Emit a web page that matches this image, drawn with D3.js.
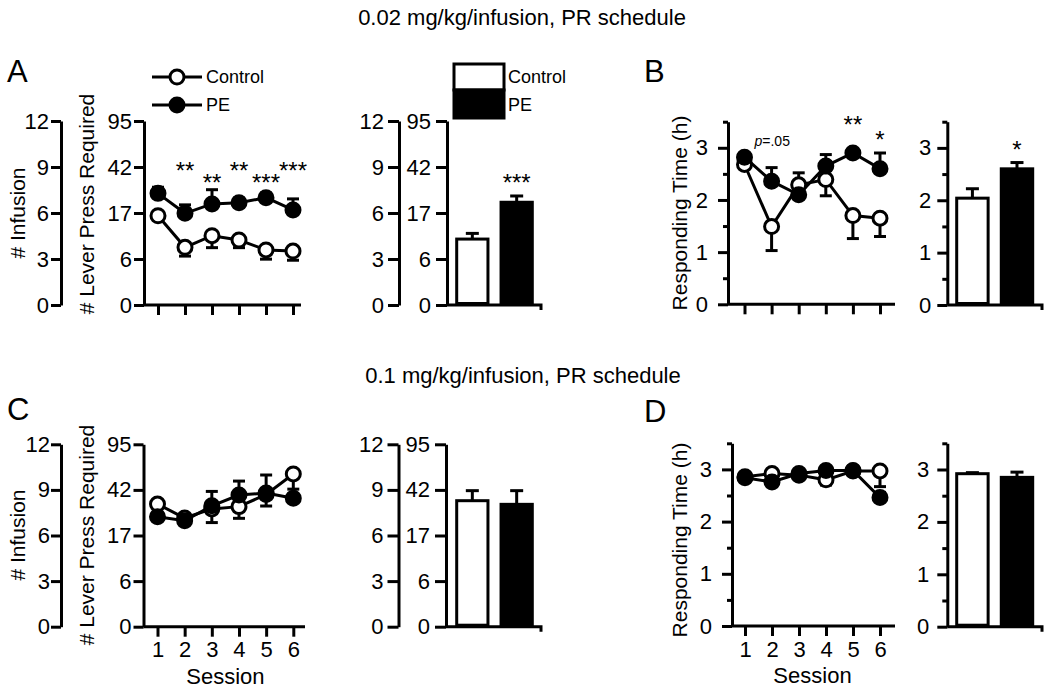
<!DOCTYPE html>
<html><head><meta charset="utf-8">
<script src="https://cdn.jsdelivr.net/npm/d3@7"></script>
<style>
body{margin:0;background:#fff;}
svg{display:block;}
</style></head><body>
<svg id="chart" width="1050" height="690"></svg>
<script>
// ---------- DATA ----------
const sessions = [1, 2, 3, 4, 5, 6];
const groups = ["Control", "PE"];
const infusionTicks = [0, 3, 6, 9, 12];
const leverTickLabels = ["0", "6", "17", "42", "95"];
const timeMajorTicks = [0, 1, 2, 3];
const timeMinorTicks = [0.5, 1.5, 2.5, 3.5];
const titles = ["0.02 mg/kg/infusion, PR schedule", "0.1 mg/kg/infusion, PR schedule"];

// errors: positive = bar drawn upward, negative = downward
// Panel A (0.02 mg/kg, # infusions)
const aControl = [5.82, 3.76, 4.52, 4.24, 3.59, 3.52];
const aControlErr = [-0.2, -0.57, -0.78, -0.5, -0.6, -0.6];
const aPE = [7.28, 5.98, 6.59, 6.67, 7.0, 6.2];
const aPEErr = [0.4, 0.55, 0.93, 0.3, 0.3, 0.72];
const aStars = ["", "**", "**", "**", "***", "***"];
const aStarLevel = [0, 9.1, 8.3, 9.1, 8.3, 9.1];
const aBarMeans = [4.3, 6.7];
const aBarErr = [0.37, 0.41];
const aBarStars = ["", "***"];
const aBarStarLevel = [0, 8.3];

// Panel B (0.02 mg/kg, responding time h)
const bControl = [2.68, 1.49, 2.29, 2.39, 1.70, 1.65];
const bControlErr = [-0.05, -0.46, 0.23, -0.31, -0.44, -0.35];
const bPE = [2.82, 2.36, 2.10, 2.65, 2.90, 2.60];
const bPEErr = [0.05, 0.26, 0.1, 0.22, 0.05, 0.30];
const bStars = ["", "", "", "", "**", "*"];
const bStarLevel = [0, 0, 0, 0, 3.55, 3.25];
const bBarMeans = [2.04, 2.60];
const bBarErr = [0.18, 0.12];
const bBarStars = ["", "*"];
const bBarStarLevel = [0, 3.07];

// Panel C (0.1 mg/kg, # infusions)
const cControl = [8.07, 7.15, 7.75, 7.9, 8.7, 10.05];
const cControlErr = [-0.2, -0.3, -0.9, -0.77, -0.76, -1.0];
const cPE = [7.24, 6.97, 7.95, 8.66, 8.8, 8.45];
const cPEErr = [0.2, 0.35, 0.95, 0.92, 1.18, 0.2];
const cBarMeans = [8.29, 8.05];
const cBarErr = [0.66, 0.9];

// Panel D (0.1 mg/kg, responding time h)
const dControl = [2.86, 2.92, 2.89, 2.80, 2.97, 2.97];
const dControlErr = [0.02, 0.03, -0.05, -0.1, 0.02, -0.3];
const dPE = [2.84, 2.76, 2.92, 2.98, 2.98, 2.46];
const dPEErr = [0.03, 0.05, 0.03, 0.03, 0.02, 0.1];
const dBarMeans = [2.92, 2.85];
const dBarErr = [0.02, 0.1];

// ---------- DRAWING ----------
const FONT = '"Liberation Sans", Arial, sans-serif';
const svg = d3.select("#chart").attr("font-family", FONT);
const SW = 3;
const STAR_FS = 24;

function styleAxis(g, fs) {
  g.attr("font-family", FONT).attr("font-size", fs || 22);
  g.select(".domain").attr("stroke", "#000").attr("stroke-width", SW);
  g.selectAll(".tick line").attr("stroke", "#000").attr("stroke-width", SW);
  g.selectAll(".tick text").attr("fill", "#000");
  return g;
}

function dualAxes(y, infX, levX, infPad, levPad, tick) {
  styleAxis(svg.append("g").attr("transform", `translate(${infX},0)`)
    .call(d3.axisLeft(y).tickValues(infusionTicks).tickSize(tick).tickSizeOuter(0).tickPadding(infPad)));
  styleAxis(svg.append("g").attr("transform", `translate(${levX},0)`)
    .call(d3.axisLeft(y).tickValues(infusionTicks).tickSize(tick).tickSizeOuter(0).tickPadding(levPad)
      .tickFormat(d => leverTickLabels[infusionTicks.indexOf(d)])));
}

function timeAxis(y, axX, pad) {
  styleAxis(svg.append("g").attr("transform", `translate(${axX},0)`)
    .call(d3.axisLeft(y).tickValues(timeMajorTicks).tickSize(10).tickSizeOuter(0).tickPadding(pad)
      .tickFormat(d3.format("d"))));
  const mg = styleAxis(svg.append("g").attr("transform", `translate(${axX},0)`)
    .call(d3.axisLeft(y).tickValues(timeMinorTicks).tickSize(5).tickFormat("")));
  mg.select(".domain").remove();
}

function errorBar(g, cx, y, v, e, cap) {
  if (!e) return;
  const y1 = y(v), y2 = y(v + e);
  g.append("line").attr("x1", cx).attr("x2", cx).attr("y1", y1).attr("y2", y2)
    .attr("stroke", "#000").attr("stroke-width", SW);
  g.append("line").attr("x1", cx - cap).attr("x2", cx + cap).attr("y1", y2).attr("y2", y2)
    .attr("stroke", "#000").attr("stroke-width", SW);
}

function starText(x, yPix, s) {
  svg.append("text").attr("x", x).attr("y", yPix + 13.5)
    .attr("text-anchor", "middle").attr("font-size", STAR_FS).text(s);
}

function linePanel(p) {
  const y = d3.scaleLinear().domain([0, p.yMax]).range([p.yBot, p.yTop]);
  const x = d3.scaleLinear().domain([1, 6]).range(p.xRange);
  if (p.dual) dualAxes(y, p.infX, p.axisX, p.infPad, p.levPad, 10);
  else timeAxis(y, p.axisX, p.pad);
  const ax = styleAxis(svg.append("g").attr("transform", `translate(0,${p.yBot})`)
    .call(d3.axisBottom(x).tickValues(sessions).tickSize(10).tickSizeOuter(0).tickPadding(5)
      .tickFormat(p.xLabels ? d3.format("d") : () => "")));
  ax.select(".domain").attr("d", `M${p.axisX},0H${p.xEnd}`);
  if (p.xLabels) {
    svg.append("text").attr("x", (p.xRange[0] + p.xRange[1]) / 2).attr("y", p.yBot + 57)
      .attr("text-anchor", "middle").attr("font-size", 22).text("Session");
  }
  const g = svg.append("g");
  const series = [
    { v: p.control, e: p.controlErr, fill: "#fff" },
    { v: p.pe, e: p.peErr, fill: "#000" }
  ];
  const line = d3.line().x((d, i) => x(sessions[i])).y(d => y(d));
  series.forEach(s => {
    g.append("path").attr("d", line(s.v)).attr("fill", "none").attr("stroke", "#000").attr("stroke-width", SW);
  });
  series.forEach(s => s.v.forEach((v, i) => errorBar(g, x(sessions[i]), y, v, s.e[i], 6)));
  series.forEach(s => {
    g.selectAll(null).data(s.v).enter().append("circle")
      .attr("cx", (d, i) => x(sessions[i])).attr("cy", d => y(d)).attr("r", 7)
      .attr("fill", s.fill).attr("stroke", "#000").attr("stroke-width", SW);
  });
  if (p.stars) {
    p.stars.forEach((s, i) => { if (s) starText(x(sessions[i]), y(p.starLevel[i]), s); });
  }
  return { x, y };
}

function barPanel(p) {
  const y = d3.scaleLinear().domain([0, p.yMax]).range([p.yBot, p.yTop]);
  const xb = d3.scaleBand().domain(groups).range(p.barRange).paddingInner(0.295);
  if (p.dual) dualAxes(y, p.infX, p.axisX, p.infPad, p.levPad, 11);
  else timeAxis(y, p.axisX, p.pad);
  const ax = styleAxis(svg.append("g").attr("transform", `translate(0,${p.yBot})`)
    .call(d3.axisBottom(xb).tickValues([]).tickSizeOuter(0)));
  ax.select(".domain").attr("d", `M${p.axisX},0H${p.xEnd}V5`);
  const g = svg.append("g");
  groups.forEach((gr, i) => {
    const v = p.means[i];
    const cx = xb(gr) + xb.bandwidth() / 2;
    errorBar(g, cx, y, v, p.err[i], 6.5);
    g.append("rect").attr("x", xb(gr)).attr("width", xb.bandwidth())
      .attr("y", y(v)).attr("height", p.yBot - y(v) - 1.5)
      .attr("fill", i === 0 ? "#fff" : "#000").attr("stroke", "#000").attr("stroke-width", SW);
    if (p.stars && p.stars[i]) starText(cx, y(p.starLevel[i]), p.stars[i]);
  });
  return { xb, y };
}

function rotLabel(txt, x, y) {
  svg.append("text").attr("transform", `translate(${x},${y}) rotate(-90)`)
    .attr("text-anchor", "middle").attr("dominant-baseline", "central")
    .attr("font-size", 21).text(txt);
}

// Titles
svg.append("text").attr("x", 522).attr("y", 25).attr("text-anchor", "middle").attr("font-size", 22).text(titles[0]);
svg.append("text").attr("x", 523).attr("y", 383).attr("text-anchor", "middle").attr("font-size", 22).text(titles[1]);

// Panel letters
[["A", 7, 82], ["B", 644, 82], ["C", 7, 420], ["D", 644, 422]].forEach(([t, x, yy]) =>
  svg.append("text").attr("x", x).attr("y", yy).attr("font-size", 31).text(t));

// ---- Panel A ----
linePanel({ dual: true, yMax: 12, yBot: 305, yTop: 121, infX: 61, axisX: 144, infPad: 2, levPad: 2,
  xRange: [158, 293], xEnd: 301, xLabels: false,
  control: aControl, controlErr: aControlErr, pe: aPE, peErr: aPEErr, stars: aStars, starLevel: aStarLevel });
rotLabel("# Infusion", 17, 213);
rotLabel("# Lever Press Required", 86, 204);
barPanel({ dual: true, yMax: 12, yBot: 305, yTop: 121, infX: 399, axisX: 447, infPad: 4, levPad: 5,
  barRange: [456.7, 532.3], xEnd: 541, means: aBarMeans, err: aBarErr, stars: aBarStars, starLevel: aBarStarLevel });

// Legend (line)
[{ name: groups[0], fill: "#fff", yy: 77 }, { name: groups[1], fill: "#000", yy: 105 }].forEach(l => {
  svg.append("line").attr("x1", 152).attr("x2", 202).attr("y1", l.yy).attr("y2", l.yy)
    .attr("stroke", "#000").attr("stroke-width", SW);
  svg.append("circle").attr("cx", 177).attr("cy", l.yy).attr("r", 7)
    .attr("fill", l.fill).attr("stroke", "#000").attr("stroke-width", SW);
  svg.append("text").attr("x", 206).attr("y", l.yy).attr("dominant-baseline", "central")
    .attr("font-size", 18).text(l.name);
});
// Legend (bar)
[{ name: groups[0], fill: "#fff", y0: 64, y1: 90, ty: 77 }, { name: groups[1], fill: "#000", y0: 90, y1: 118, ty: 105 }].forEach(l => {
  svg.append("rect").attr("x", 454).attr("y", l.y0).attr("width", 50).attr("height", l.y1 - l.y0)
    .attr("fill", l.fill).attr("stroke", "#000").attr("stroke-width", SW);
  svg.append("text").attr("x", 508).attr("y", l.ty).attr("dominant-baseline", "central")
    .attr("font-size", 18).text(l.name);
});

// ---- Panel B ----
const pb = linePanel({ dual: false, yMax: 3.5, yBot: 304.3, yTop: 121.7, axisX: 728, pad: 10,
  xRange: [744.5, 880], xEnd: 895, xLabels: false,
  control: bControl, controlErr: bControlErr, pe: bPE, peErr: bPEErr, stars: bStars, starLevel: bStarLevel });
const pt = svg.append("text").attr("x", pb.x(1) + 10).attr("y", pb.y(3.04)).attr("font-size", 14);
pt.append("tspan").attr("font-style", "italic").text("p");
pt.append("tspan").text("=.05");
rotLabel("Responding Time (h)", 679, 213);
barPanel({ dual: false, yMax: 3.5, yBot: 305, yTop: 121.7, axisX: 947.3, pad: 6,
  barRange: [956.7, 1032.7], xEnd: 1042, means: bBarMeans, err: bBarErr, stars: bBarStars, starLevel: bBarStarLevel });

// ---- Panel C ----
linePanel({ dual: true, yMax: 12, yBot: 626.7, yTop: 444.3, infX: 61, axisX: 143.5, infPad: 1, levPad: 2,
  xRange: [157.5, 293.3], xEnd: 305, xLabels: true,
  control: cControl, controlErr: cControlErr, pe: cPE, peErr: cPEErr });
rotLabel("# Infusion", 17, 535);
rotLabel("# Lever Press Required", 86, 535);
barPanel({ dual: true, yMax: 12, yBot: 626.7, yTop: 444.3, infX: 398.5, axisX: 446, infPad: 4, levPad: 5,
  barRange: [456.7, 532.3], xEnd: 541, means: cBarMeans, err: cBarErr });

// ---- Panel D ----
linePanel({ dual: false, yMax: 3.5, yBot: 626, yTop: 443.3, axisX: 732, pad: 10,
  xRange: [745, 880], xEnd: 895, xLabels: true,
  control: dControl, controlErr: dControlErr, pe: dPE, peErr: dPEErr });
rotLabel("Responding Time (h)", 679, 540);
barPanel({ dual: false, yMax: 3.5, yBot: 626.7, yTop: 443.3, axisX: 947.3, pad: 8,
  barRange: [956.7, 1032.7], xEnd: 1042, means: dBarMeans, err: dBarErr });
</script>
</body></html>
